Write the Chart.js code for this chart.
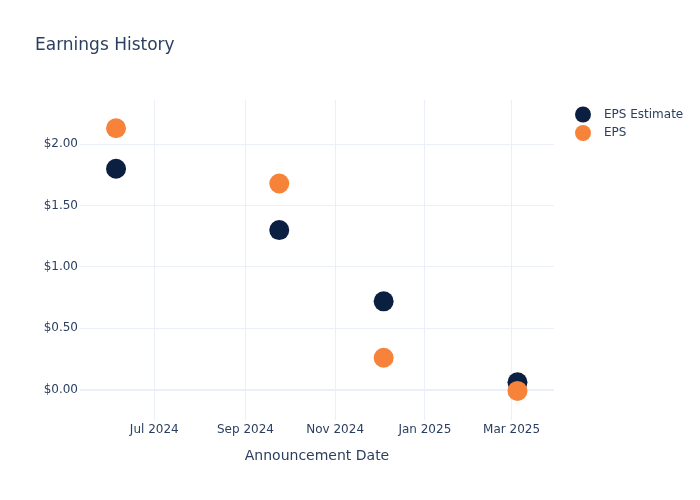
<!DOCTYPE html>
<html>
<head>
<meta charset="utf-8">
<script src="https://cdn.jsdelivr.net/npm/chart.js@4.4.1/dist/chart.umd.min.js"></script>
<style>
  html, body { margin: 0; padding: 0; background: #fff; }
  #wrap { width: 700px; height: 500px; position: relative; }
</style>
</head>
<body>
<div id="wrap"><canvas id="earnings-chart"></canvas></div>
<script>
// data
var announceDates = ["2024-06-05", "2024-09-24", "2024-12-04", "2025-03-05"];
var epsEstimate = [1.80, 1.30, 0.72, 0.06];
var epsActual = [2.13, 1.68, 0.26, -0.01];
var xTickDates = ["2024-07-01", "2024-09-01", "2024-11-01", "2025-01-01", "2025-03-01"];
var yTickValues = [0, 0.5, 1, 1.5, 2];
var seriesNames = ["EPS Estimate", "EPS"];
var seriesColors = ["#0b1f41", "#f7833a"];

var monthNames = ["Jan", "Feb", "Mar", "Apr", "May", "Jun", "Jul", "Aug", "Sep", "Oct", "Nov", "Dec"];
var textColor = "#2a3f5f";
var gridColor = "#ebf0f8";
var fontFamily = "'DejaVu Sans', Verdana, sans-serif";

function toPoints(values) {
	return values.map(function (v, i) {
		return { x: Date.parse(announceDates[i]), y: v };
	});
}

var titleAndLegend = {
	id: "titleAndLegend",
	afterDraw: function (chart) {
		var ctx = chart.ctx;
		ctx.save();
		ctx.fillStyle = textColor;
		ctx.font = "17px " + fontFamily;
		ctx.textAlign = "left";
		ctx.textBaseline = "alphabetic";
		ctx.fillText("Earnings History", 35, 50);

		ctx.font = "12px " + fontFamily;
		ctx.textBaseline = "middle";
		chart.data.datasets.forEach(function (ds, i) {
			var y = 114.5 + i * 18.5;
			ctx.beginPath();
			ctx.arc(583, y, 8, 0, Math.PI * 2);
			ctx.fillStyle = ds.backgroundColor;
			ctx.fill();
			ctx.fillStyle = textColor;
			ctx.fillText(ds.label, 604, y);
		});
		ctx.restore();
	}
};

var data1 = {
	datasets: [
		{
			label: seriesNames[0],
			data: toPoints(epsEstimate),
			backgroundColor: seriesColors[0],
			pointBorderWidth: 0,
			pointRadius: 10,
			order: 2
		},
		{
			label: seriesNames[1],
			data: toPoints(epsActual),
			backgroundColor: seriesColors[1],
			pointBorderWidth: 0,
			pointRadius: 10,
			order: 1
		}
	]
};

var options1 = {
	responsive: true,
	maintainAspectRatio: false,
	animation: false,
	layout: { padding: { left: 0, top: 100, right: 146, bottom: 0 } },
	plugins: {
		legend: { display: false },
		title: { display: false },
		tooltip: { enabled: false }
	},
	scales: {
		x: {
			type: "linear",
			min: Date.parse("2024-05-11T12:00:00Z"),
			max: Date.parse("2025-03-29T20:00:00Z"),
			afterBuildTicks: function (scale) {
				scale.ticks = xTickDates.map(function (d) { return { value: Date.parse(d) }; });
			},
			afterFit: function (scale) { scale.height = 80; },
			border: { display: false },
			grid: { color: gridColor, lineWidth: 1, drawTicks: false },
			ticks: {
				padding: 3,
				color: textColor,
				font: { family: fontFamily, size: 12 },
				maxRotation: 0,
				autoSkip: false,
				callback: function (value) {
					var d = new Date(value);
					return monthNames[d.getUTCMonth()] + " " + d.getUTCFullYear();
				}
			},
			title: {
				display: true,
				text: "Announcement Date",
				color: textColor,
				font: { family: fontFamily, size: 14 },
				padding: { top: 0, bottom: 35.6 }
			}
		},
		y: {
			type: "linear",
			min: -0.247,
			max: 2.36,
			afterBuildTicks: function (scale) {
				scale.ticks = yTickValues.map(function (v) { return { value: v }; });
			},
			afterFit: function (scale) { scale.width = 80; },
			border: { display: false },
			grid: {
				color: gridColor,
				drawTicks: false,
				lineWidth: function (c) { return c.tick && c.tick.value === 0 ? 2 : 1; }
			},
			ticks: {
				padding: 2,
				color: textColor,
				font: { family: fontFamily, size: 12 },
				callback: function (value) { return "$" + Number(value).toFixed(2); }
			}
		}
	}
};

var chart1 = new Chart(document.getElementById("earnings-chart"), {
	type: "scatter",
	data: data1,
	options: options1,
	plugins: [titleAndLegend]
});
</script>
</body>
</html>
